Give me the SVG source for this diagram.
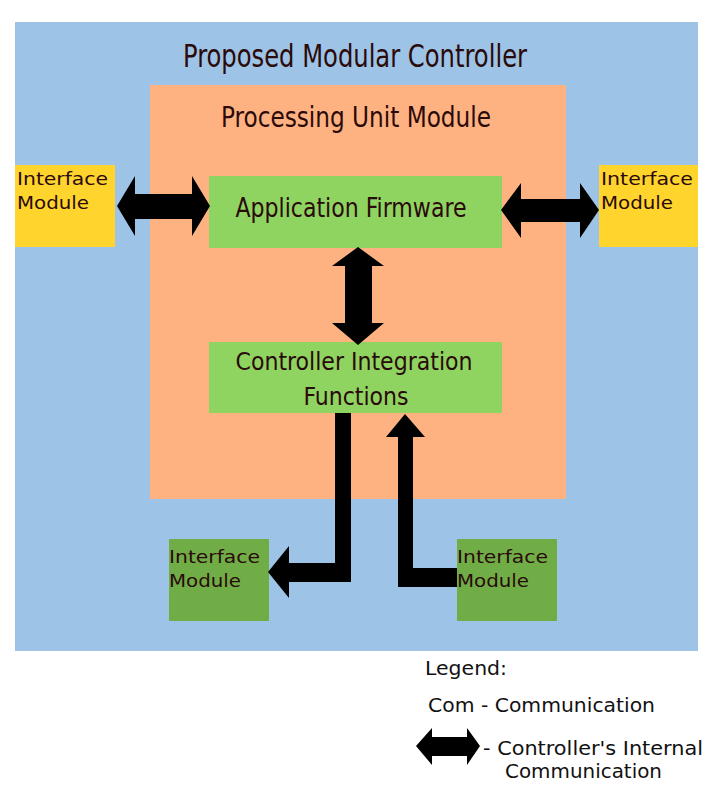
<svg xmlns="http://www.w3.org/2000/svg" width="706" height="786" viewBox="0 0 706 786">
<style>
.t{font-family:"DejaVu Sans Condensed","DejaVu Sans",sans-serif;fill:#2a0a0a}
.s{font-family:"DejaVu Sans",sans-serif;fill:#2a0a0a;font-size:18px}
.l{font-family:"DejaVu Sans",sans-serif;fill:#111;font-size:19px}
.arr{fill:#000}
</style>
<rect width="706" height="786" fill="#fff"/>
<g id="controller">
<rect x="15" y="22" width="683" height="629" fill="#9DC3E6"/>
<text class="t" x="355" y="67" font-size="32" text-anchor="middle" textLength="344" lengthAdjust="spacingAndGlyphs">Proposed Modular Controller</text>
</g>
<g id="processing-unit">
<rect x="150" y="85" width="416" height="414" fill="#FFB281"/>
<text class="t" x="356" y="127" font-size="29" text-anchor="middle" textLength="270" lengthAdjust="spacingAndGlyphs">Processing Unit Module</text>
</g>
<g id="app-firmware">
<rect x="209" y="176" width="293" height="72" fill="#8FD460"/>
<text class="t" x="351" y="217" font-size="26" text-anchor="middle" textLength="231" lengthAdjust="spacingAndGlyphs">Application Firmware</text>
</g>
<g id="cif">
<rect x="209" y="342" width="293" height="71" fill="#8FD460"/>
<text class="t" x="354" y="370" font-size="25" text-anchor="middle" textLength="237" lengthAdjust="spacingAndGlyphs">Controller Integration</text>
<text class="t" x="356" y="405" font-size="25" text-anchor="middle" textLength="105" lengthAdjust="spacingAndGlyphs">Functions</text>
</g>
<g id="if-left">
<rect x="15" y="165" width="100" height="82" fill="#FFD42C"/>
<text class="s" x="17" y="185" textLength="91" lengthAdjust="spacingAndGlyphs">Interface</text>
<text class="s" x="17" y="209" textLength="72" lengthAdjust="spacingAndGlyphs">Module</text>
</g>
<g id="if-right">
<rect x="599" y="165" width="99" height="82" fill="#FFD42C"/>
<text class="s" x="601" y="185" textLength="92" lengthAdjust="spacingAndGlyphs">Interface</text>
<text class="s" x="601" y="209" textLength="72" lengthAdjust="spacingAndGlyphs">Module</text>
</g>
<g id="if-bottom-left">
<rect x="169" y="539" width="100" height="82" fill="#70AD47"/>
<text class="s" x="169" y="563" textLength="91" lengthAdjust="spacingAndGlyphs">Interface</text>
<text class="s" x="169" y="587" textLength="72" lengthAdjust="spacingAndGlyphs">Module</text>
</g>
<g id="if-bottom-right">
<rect x="457" y="539" width="100" height="82" fill="#70AD47"/>
<text class="s" x="457" y="563" textLength="91" lengthAdjust="spacingAndGlyphs">Interface</text>
<text class="s" x="457" y="587" textLength="72" lengthAdjust="spacingAndGlyphs">Module</text>
</g>
<g id="connectors">
<polygon class="arr" points="117,206 135,176 135,194 192,194 192,176 210,206 192,236 192,219 135,219 135,236"/>
<polygon class="arr" points="501,210 521,183 521,199 580,199 580,183 599,210 580,238 580,222 521,222 521,238"/>
<polygon class="arr" points="358,247 384,266 372,266 372,323 384,323 358,345 332,323 345,323 345,266 332,266"/>
<polygon class="arr" points="335,413 351,413 351,582 289,582 289,598 268,572 289,546 289,563 335,563"/>
<polygon class="arr" points="457,568 457,587 398,587 398,437 386,437 405,414 425,437 413,437 413,568"/>
</g>
<g id="legend">
<text class="l" x="425" y="675" textLength="82" lengthAdjust="spacingAndGlyphs">Legend:</text>
<text class="l" x="428" y="712" textLength="227" lengthAdjust="spacingAndGlyphs">Com - Communication</text>
<polygon class="arr" points="416,746 432,728 432,737 467,737 467,728 480,746 467,765 467,756 432,756 432,765"/>
<text class="l" x="483" y="755" textLength="220" lengthAdjust="spacingAndGlyphs">- Controller's Internal</text>
<text class="l" x="505" y="778" textLength="157" lengthAdjust="spacingAndGlyphs">Communication</text>
</g>
</svg>
